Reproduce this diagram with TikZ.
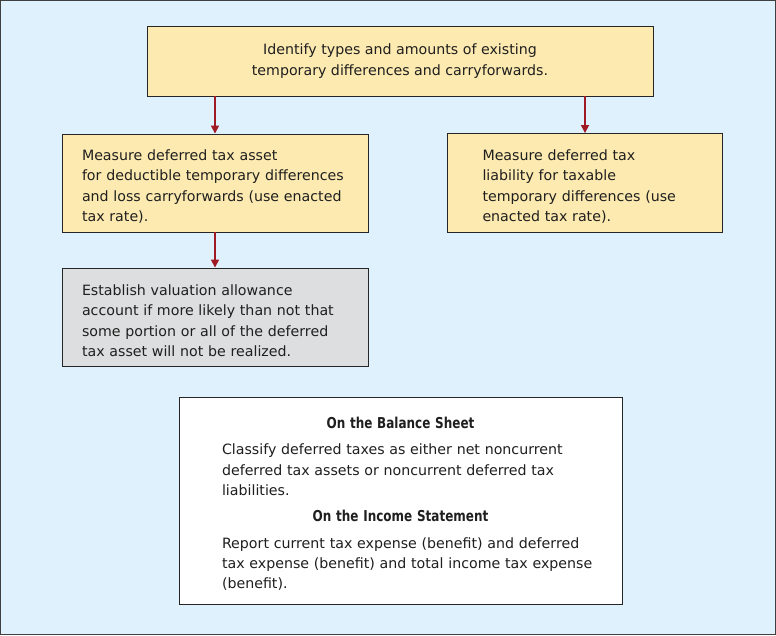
\documentclass[tikz,border=0pt]{standalone}
\usepackage{fontspec}
\setmainfont{DejaVu Sans}
\newfontfamily\headfont[FakeStretch=0.8]{DejaVu Sans}
\usetikzlibrary{arrows.meta}
\definecolor{bgblue}{RGB}{223,241,252}
\definecolor{boxyellow}{RGB}{253,234,176}
\definecolor{boxgrey}{RGB}{221,222,223}
\definecolor{arrowred}{RGB}{160,26,36}
\newcommand{\topgap}{\rule{0pt}{18pt}}
\newcommand{\boxhead}[1]{{\centering\headfont\bfseries\fontsize{15pt}{20.3pt}\selectfont#1\par}}
\begin{document}
\begin{tikzpicture}[x=1pt,y=-1pt,
  box/.style={draw=black!85,line width=0.9pt,fill=boxyellow,inner ysep=0pt,
    font=\fontsize{14.2pt}{20.3pt}\selectfont,text=black!88},
  flow/.style={draw=arrowred,line width=1.6pt,-{Triangle[width=8pt,length=8pt]}}]
\useasboundingbox (0,0) rectangle (776,635);
\draw[fill=bgblue,draw=black!75,line width=1pt] (0.5,0.5) rectangle (775.5,634.5);
\node[box,minimum width=506pt,minimum height=70pt,align=center] (types) at (400,61)
  {Identify types and amounts of existing\\temporary differences and carryforwards.};
\node[box,minimum width=306pt,minimum height=98pt,text width=266pt,inner xsep=20pt,align=left] (asset) at (215,183)
  {\topgap Measure deferred tax asset\\for deductible temporary differences\\and loss carryforwards (use enacted\\tax rate).};
\node[box,minimum width=275pt,minimum height=99pt,text width=205pt,inner xsep=35pt,align=left] (liab) at (585,183)
  {\topgap Measure deferred tax\\liability for taxable\\temporary differences (use\\enacted tax rate).};
\node[box,fill=boxgrey,minimum width=306pt,minimum height=98pt,text width=266pt,inner xsep=20pt,align=left] (allow) at (215,317)
  {\topgap Establish valuation allowance\\account if more likely than not that\\some portion or all of the deferred\\tax asset will not be realized.};
\node[box,fill=white,minimum width=443pt,minimum height=207pt,text width=401pt,inner xsep=21pt,align=left] (report) at (400.5,500.5)
  {\boxhead{\topgap On the Balance Sheet}
   \vspace{6pt}
   {\leftskip=22pt Classify deferred taxes as either net noncurrent\\deferred tax assets or noncurrent deferred tax\\liabilities.\par}
   \vspace{6pt}
   \boxhead{On the Income Statement}
   \vspace{6pt}
   {\leftskip=22pt Report current tax expense (benefit) and deferred\\tax expense (benefit) and total income tax expense\\(benefit).\par}};
\draw[flow] (types.south -| asset.north) -- (asset.north);
\draw[flow] (types.south -| liab.north) -- (liab.north);
\draw[flow] (asset) -- (allow);
\end{tikzpicture}
\end{document}
